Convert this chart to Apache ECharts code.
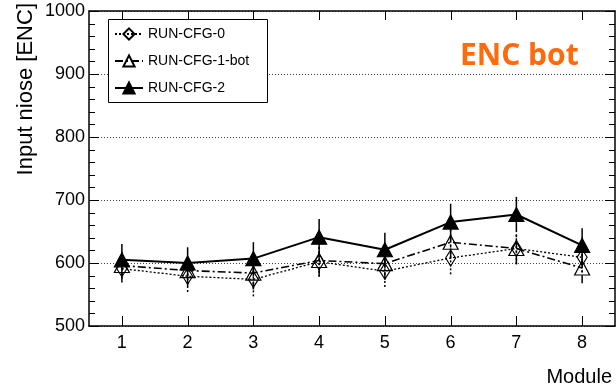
<!DOCTYPE html>
<html>
<head>
<meta charset="utf-8">
<script src="https://cdn.jsdelivr.net/npm/echarts@6/dist/echarts.min.js"></script>
<style>
  html, body { margin: 0; padding: 0; background: #fff; }
  #chart { width: 616px; height: 389px; }
</style>
</head>
<body>
<div id="chart"></div>
<script>
const modules = ["1", "2", "3", "4", "5", "6", "7", "8"];
const seriesNames = ["RUN-CFG-0", "RUN-CFG-1-bot", "RUN-CFG-2"];
const cfg0 = [591, 579, 574, 602, 587, 608, 623, 609];
const cfg0Err = [22, 25, 27, 24, 25, 26, 25, 24];
const cfg1 = [596, 588, 584, 604, 599, 633, 623, 592];
const cfg1Err = [24, 25, 26, 25, 25, 26, 25, 24];
const cfg2 = [605, 600, 607, 641, 621, 665, 677, 628];
const cfg2Err = [25, 25, 26, 29, 27, 29, 28, 27];
const yMajorTicks = [500, 600, 700, 800, 900, 1000];
const yMinorTicks = [520, 540, 560, 580, 620, 640, 660, 680, 720, 740, 760, 780,
  820, 840, 860, 880, 920, 940, 960, 980];

const FONT = "Liberation Sans";

// dotted, dash-dot, solid
const styles = [
  { type: [2, 2], width: 1.3 },
  { type: [8, 3, 2, 3], width: 1.6 },
  { type: "solid", width: 2 },
];

function errData(vals, errs) {
  return vals.map((v, i) => [i, v - errs[i], v + errs[i]]);
}

function errSeries(vals, errs, style) {
  return {
    type: "custom",
    silent: true,
    z: 1,
    renderItem: (params, api) => {
      const lo = api.coord([api.value(0), api.value(1)]);
      const hi = api.coord([api.value(0), api.value(2)]);
      return {
        type: "line",
        shape: { x1: lo[0], y1: lo[1], x2: hi[0], y2: hi[1] },
        style: { stroke: "#000", lineWidth: 1.5, lineDash: style.type === "solid" ? null : style.type },
      };
    },
    encode: { x: 0, y: [1, 2] },
    data: errData(vals, errs),
  };
}

function lineSeries(name, vals, style, symbol, size, fill) {
  return {
    type: "line",
    name: name,
    data: vals,
    z: 3,
    symbol: symbol,
    symbolSize: size,
    showAllSymbol: true,
    lineStyle: { color: "#000", width: style.width, type: style.type },
    itemStyle: { color: fill, borderColor: "#000", borderWidth: 1.2 },
    emphasis: { disabled: true },
  };
}

// dark axis ticks don't show up with axisTick here, so the inward ROOT-style
// ticks are drawn through the axes' own coordinates instead
// item: [category index, y value, length, kind] kind 0 = y tick, 1 = x tick
const tickData = [
  ...yMajorTicks.map((v) => [0, v, 10, 0]),
  ...yMinorTicks.map((v) => [0, v, 6, 0]),
  ...modules.map((m, i) => [i, 500, 10, 1]),
];

const tickSeries = {
  type: "custom",
  silent: true,
  z: 4,
  renderItem: (params, api) => {
    const cs = params.coordSys;
    const len = api.value(2);
    const st = { stroke: "#000", lineWidth: 1 };
    if (api.value(3) === 0) {
      const y = Math.round(api.coord([0, api.value(1)])[1]) + 0.5;
      const r = cs.x + cs.width;
      return {
        type: "group",
        children: [
          { type: "line", shape: { x1: cs.x, y1: y, x2: cs.x + len, y2: y }, style: st },
          { type: "line", shape: { x1: r - len, y1: y, x2: r, y2: y }, style: st },
        ],
      };
    }
    const x = Math.round(api.coord([api.value(0), 500])[0]) + 0.5;
    const b = cs.y + cs.height;
    return {
      type: "group",
      children: [
        { type: "line", shape: { x1: x, y1: b, x2: x, y2: b - len }, style: st },
        { type: "line", shape: { x1: x, y1: cs.y, x2: x, y2: cs.y + len - 1 }, style: st },
      ],
    };
  },
  encode: { x: 0, y: 1 },
  data: tickData,
};

function xAxisDef(position, showLabels) {
  return {
    type: "category",
    data: modules,
    position: position,
    axisLine: { show: true, lineStyle: { color: "#000", width: 1.5 } },
    axisTick: { show: false },
    axisLabel: { show: showLabels, color: "#000", fontSize: 18, margin: 8, fontFamily: FONT },
  };
}

function yAxisDef(position, showLabels) {
  return {
    type: "value",
    min: 500,
    max: 1000,
    interval: 100,
    position: position,
    axisLine: { show: true, lineStyle: { color: "#000", width: 1.5 } },
    axisTick: { show: false },
    axisLabel: {
      show: showLabels,
      color: "#000",
      fontSize: 18,
      margin: 4,
      fontFamily: FONT,
      formatter: (v) => String(v),
    },
    splitLine: { show: showLabels, lineStyle: { color: "#444", type: [1, 2], width: 1 } },
  };
}

const chart = echarts.init(document.getElementById("chart"));
chart.setOption({
  animation: false,
  textStyle: { fontFamily: FONT },
  grid: { left: 89, right: 1, top: 11, bottom: 63 },
  legend: {
    data: seriesNames,
    orient: "vertical",
    left: 108,
    top: 20,
    padding: [7, 6, 7, 6],
    itemGap: 13,
    itemWidth: 28,
    itemHeight: 14,
    itemTextGap: 6,
    z: 6,
    textStyle: { fontFamily: FONT, fontSize: 14, color: "#000" },
  },
  xAxis: [xAxisDef("bottom", true), xAxisDef("top", false)],
  yAxis: [yAxisDef("left", true), yAxisDef("right", false)],
  series: [
    tickSeries,
    errSeries(cfg0, cfg0Err, styles[0]),
    errSeries(cfg1, cfg1Err, styles[1]),
    errSeries(cfg2, cfg2Err, styles[2]),
    lineSeries(seriesNames[0], cfg0, styles[0], "diamond", [10, 16], "rgba(255,255,255,0)"),
    lineSeries(seriesNames[1], cfg1, styles[1], "triangle", [15, 14], "rgba(255,255,255,0)"),
    lineSeries(seriesNames[2], cfg2, styles[2], "triangle", [15, 14], "#000"),
  ],
  graphic: [
    {
      type: "rect",
      z: 5,
      shape: { x: 108.5, y: 19.5, width: 159, height: 83 },
      style: { fill: "#fff", stroke: "#000", lineWidth: 1 },
    },
    {
      type: "text",
      x: 26,
      y: 3,
      rotation: Math.PI / 2,
      style: { text: "Input niose [ENC]", fontFamily: FONT, fontSize: 22, fill: "#000", align: "right", verticalAlign: "middle" },
    },
    {
      type: "text",
      right: 4,
      top: 367,
      style: { text: "Module", fontFamily: FONT, fontSize: 20, fill: "#000" },
    },
    {
      type: "text",
      left: 460,
      top: 41,
      style: { text: "ENC bot", fontFamily: "Open Sans", fontWeight: "bold", fontSize: 30, fill: "#FF6A0A" },
    },
  ],
});
</script>
</body>
</html>
